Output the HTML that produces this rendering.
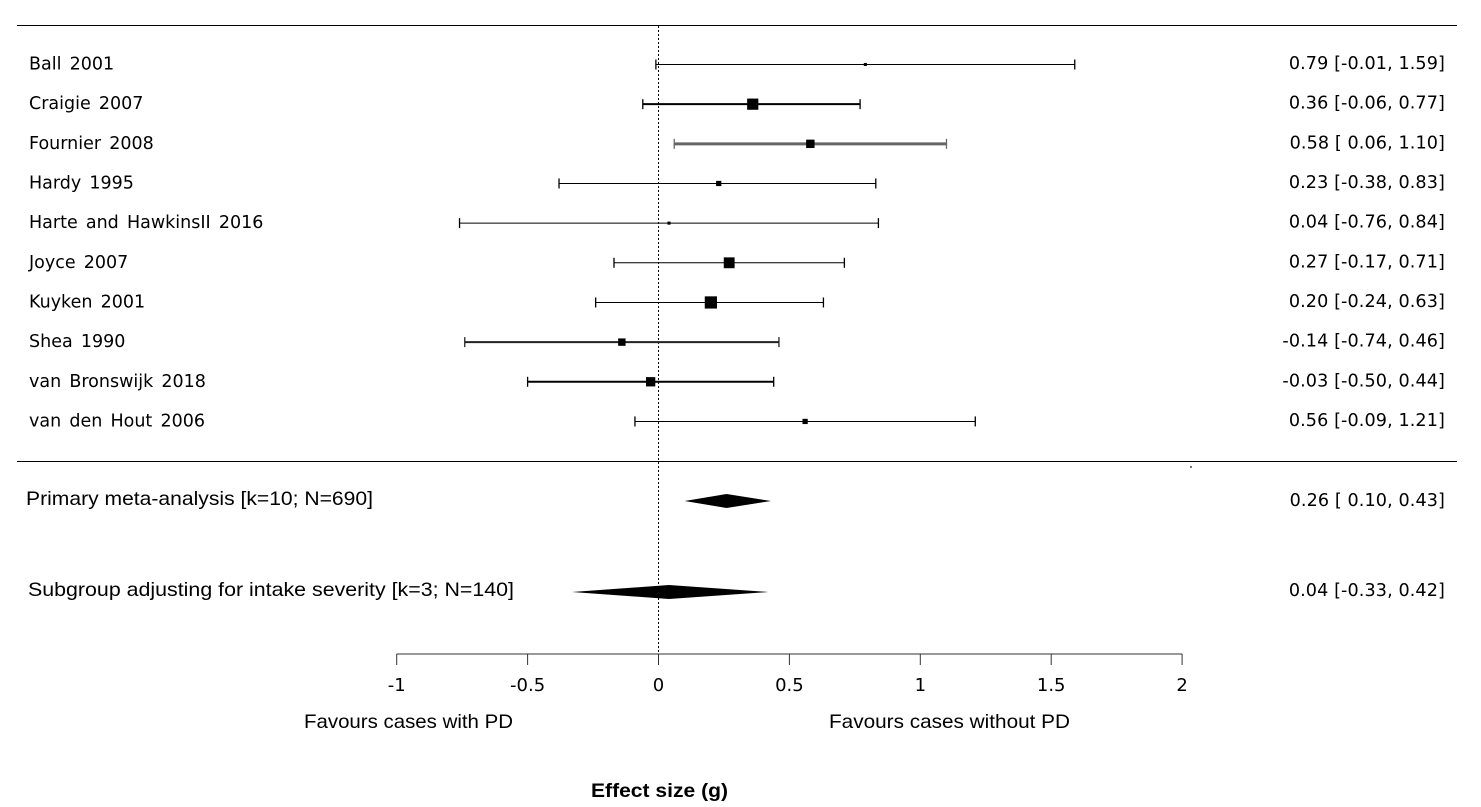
<!DOCTYPE html>
<html lang="en">
<head>
<meta charset="utf-8">
<title>Forest plot: effect size</title>
<style>
html,body{margin:0;padding:0;background:#fff;width:1481px;height:807px;overflow:hidden}
svg{display:block}
text{fill:#000;white-space:pre}
.dj{font-family:"DejaVu Sans",sans-serif;font-size:17.5px;word-spacing:2.6px}
.val{font-family:"DejaVu Sans",sans-serif;font-size:17.6px;letter-spacing:0.1px}
.tick{font-family:"DejaVu Sans",sans-serif;font-size:18px;text-anchor:middle}
.cal{font-family:"Liberation Sans",sans-serif;font-size:19.5px}
</style>
</head>
<body>
<svg id="chart" xmlns="http://www.w3.org/2000/svg" width="1481" height="807" viewBox="0 0 1481 807">
  <rect x="0" y="0" width="1481" height="807" fill="#fff"/>
  <line x1="17" x2="1457" y1="25.5" y2="25.5" stroke="#000" stroke-width="1"/>
  <line x1="17" x2="1457" y1="461.5" y2="461.5" stroke="#000" stroke-width="1"/>
  <rect x="1190" y="466" width="2" height="2" fill="#777"/>
  <g id="axis"></g>
  <g id="studies"></g>
  <g id="summaries"></g>
  <text class="cal" x="304" y="728" textLength="209" lengthAdjust="spacingAndGlyphs">Favours cases with PD</text>
  <text class="cal" x="829" y="728" textLength="241" lengthAdjust="spacingAndGlyphs">Favours cases without PD</text>
  <text class="cal" x="591" y="797" font-weight="bold" style="font-weight:bold" textLength="137" lengthAdjust="spacingAndGlyphs">Effect size (g)</text>
</svg>
<script>
const studyNames = ["Ball 2001","Craigie 2007","Fournier 2008","Hardy 1995","Harte and HawkinsII 2016","Joyce 2007","Kuyken 2001","Shea 1990","van Bronswijk 2018","van den Hout 2006"];
const estimates = [0.79,0.36,0.58,0.23,0.04,0.27,0.20,-0.14,-0.03,0.56];
const lowers = [-0.01,-0.06,0.06,-0.38,-0.76,-0.17,-0.24,-0.74,-0.50,-0.09];
const uppers = [1.59,0.77,1.10,0.83,0.84,0.71,0.63,0.46,0.44,1.21];
const weights = [1.2,16,9,3.5,1.2,15,19,7,11,3.5];
const summaryNames = ["Primary meta-analysis [k=10; N=690]","Subgroup adjusting for intake severity [k=3; N=140]"];
const summaryEstimates = [0.26,0.04];
const summaryLowers = [0.10,-0.33];
const summaryUppers = [0.43,0.42];
const tickValues = [-1,-0.5,0,0.5,1,1.5,2];

const NS = "http://www.w3.org/2000/svg";
const xOf = v => 658.5 + v * 261.8;
const rowY = i => 64.5 + i * 39.66;
const boxSize = w => 2.8 * Math.sqrt(w);
const summaryRowY = [501, 592];
const summaryLabelX = [26, 28];
const summaryLabelW = [347, 486];
const summaryLabelY = [505, 596];
const heavyCI = {"Craigie 2007":[2,"#000"],"Fournier 2008":[3,"#666"],"Shea 1990":[2,"#222"],"van Bronswijk 2018":[2,"#000"]};
const studiesG = document.getElementById("studies");
const summariesG = document.getElementById("summaries");
const axisG = document.getElementById("axis");

function mk(parent, tag, attrs, content) {
  const el = document.createElementNS(NS, tag);
  for (const k in attrs) el.setAttribute(k, attrs[k]);
  if (content !== undefined) el.textContent = content;
  parent.appendChild(el);
  return el;
}
function fmt(v) {
  return (v < 0 ? "" : " ") + v.toFixed(2);
}
function valueLabel(e, l, u) {
  return e.toFixed(2) + " [" + fmt(l) + ", " + u.toFixed(2) + "]";
}

const zero = mk(axisG, "line", {x1: xOf(0), x2: xOf(0), y1: 26, y2: 664, stroke: "#000", "stroke-width": 1, "stroke-dasharray": "2 2"});


const baseLine = mk(axisG, "line", {x1: xOf(tickValues[0]), x2: xOf(tickValues[tickValues.length - 1]), y1: 654, y2: 654, stroke: "#333", "stroke-width": 1});


tickValues.forEach(v => {
  const t = mk(axisG, "line", {x1: xOf(v), x2: xOf(v), y1: 654, y2: 665, stroke: "#333", "stroke-width": 1});
  
  
  const lb = mk(axisG, "text", {x: xOf(v), y: 691, class: "tick"}, String(v));
  
  
});

studyNames.forEach((name, i) => {
  const y = rowY(i);
  const style = heavyCI[name] || [1, "#000"];
  const lb = mk(studiesG, "text", {x: 29, y: y + 5, class: "dj"}, name);
  
  
  const ci = mk(studiesG, "line", {x1: xOf(lowers[i]), x2: xOf(uppers[i]), y1: y, y2: y, stroke: style[1], "stroke-width": style[0]});
  
  
  [lowers[i], uppers[i]].forEach(v => {
    const cap = mk(studiesG, "line", {x1: xOf(v), x2: xOf(v), y1: y - 5, y2: y + 5, stroke: style[1], "stroke-width": 1.3});
    
    
  });
  const s = boxSize(weights[i]);
  const box = mk(studiesG, "rect", {x: xOf(estimates[i]) - s / 2, y: y - s / 2, width: s, height: s, fill: "#000"});
  
  
  const val = mk(studiesG, "text", {x: 1445, y: y + 4.5, class: "val", "text-anchor": "end"}, valueLabel(estimates[i], lowers[i], uppers[i]));
  
  
});

summaryNames.forEach((name, i) => {
  const y = summaryRowY[i];
  const lb = mk(summariesG, "text", {x: summaryLabelX[i], y: summaryLabelY[i], class: "cal", textLength: summaryLabelW[i], lengthAdjust: "spacingAndGlyphs"}, name);
  
  
  const pts = [[xOf(summaryLowers[i]), y], [xOf(summaryEstimates[i]), y - 7], [xOf(summaryUppers[i]), y], [xOf(summaryEstimates[i]), y + 7]].map(p => p.join(",")).join(" ");
  const d = mk(summariesG, "polygon", {points: pts, fill: "#000"});
  
  
  const val = mk(summariesG, "text", {x: 1445, y: y + 5 - i, class: "val", "text-anchor": "end"}, valueLabel(summaryEstimates[i], summaryLowers[i], summaryUppers[i]));
  
  
});
</script>
</body>
</html>
